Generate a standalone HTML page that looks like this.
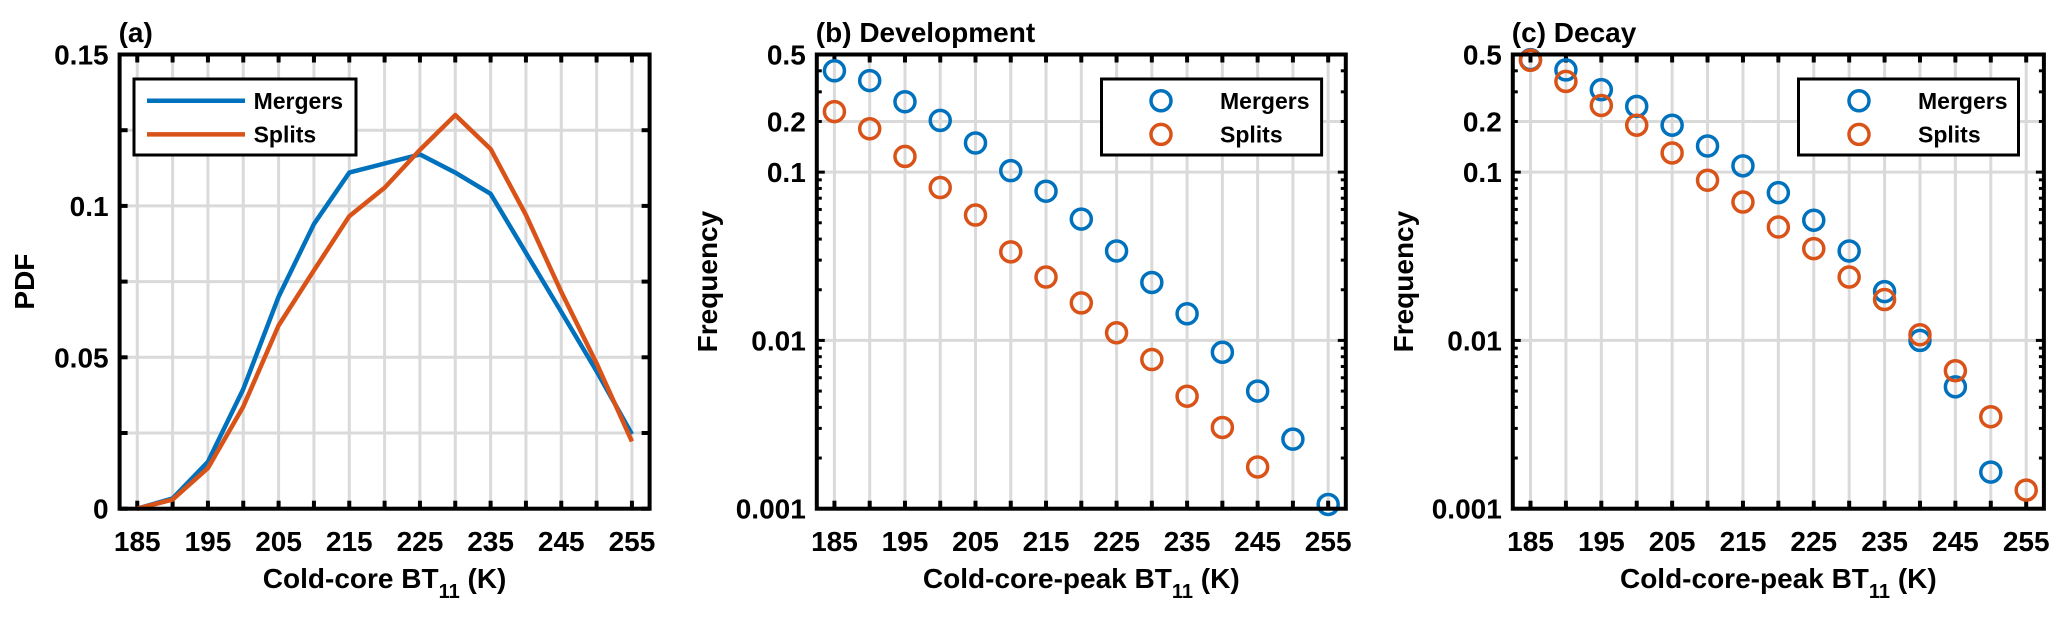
<!DOCTYPE html>
<html><head><meta charset="utf-8"><style>
html,body{margin:0;padding:0;background:#fff;}
svg{display:block;font-family:"Liberation Sans",Arial,sans-serif;font-weight:bold;}
</style></head><body>
<svg id="fig" width="2067" height="620" viewBox="0 0 2067 620"></svg>
<script>
const temps = [185,190,195,200,205,210,215,220,225,230,235,240,245,250,255];
const xTickLabels = [185,195,205,215,225,235,245,255];
const pdfMergers = [0.0,0.0034,0.0155,0.0395,0.070,0.094,0.111,0.114,0.117,0.111,0.104,0.0845,0.065,0.0454,0.0246];
const pdfSplits  = [0.0,0.003,0.0134,0.0337,0.0605,0.0787,0.0966,0.106,0.1185,0.130,0.1188,0.097,0.0716,0.048,0.0222];
const devMergers = [0.40,0.35,0.262,0.203,0.149,0.102,0.077,0.0526,0.034,0.0221,0.0144,0.0085,0.0050,0.00259,0.00106];
const devSplits  = [0.229,0.181,0.124,0.081,0.0556,0.0336,0.0238,0.0167,0.0111,0.0077,0.00466,0.00304,0.00177,null,null];
const decMergers = [0.466,0.405,0.309,0.246,0.190,0.143,0.109,0.0755,0.0518,0.034,0.0195,0.0100,0.0053,0.00165,null];
const decSplits  = [0.462,0.346,0.249,0.190,0.130,0.0895,0.0664,0.0472,0.0351,0.0238,0.0175,0.0108,0.0066,0.00352,0.00129];
const linTicks = [0,0.05,0.1,0.15];
const linTickLabels = ["0","0.05","0.1","0.15"];
const linGrid = [0.025,0.05,0.075,0.1,0.125];
const logTicks = [0.001,0.01,0.1,0.2,0.5];
const logTickLabels = ["0.001","0.01","0.1","0.2","0.5"];
const logGrid = [0.01,0.1,0.2];

const NS="http://www.w3.org/2000/svg";
const svg=document.getElementById('fig');
function mk(tag,attrs,parent){const e=document.createElementNS(NS,tag);for(const k in attrs)e.setAttribute(k,attrs[k]);(parent||svg).appendChild(e);return e;}
const BLUE="#0072BD", ORANGE="#D95319";

function panel(o){
  const g=mk('g',{});
  
  
  const L=o.L,R=o.R,T=54.5,B=508.7;
  const xs=v=>L+(v-182.5)/75*(R-L);
  const ys=o.log?(v=>T+(Math.log10(0.5)-Math.log10(v))/(Math.log10(0.5)+3)*(B-T)):(v=>B-(v/0.15)*(B-T));
  // grid
  temps.forEach(t=>{const l=mk('line',{x1:xs(t),x2:xs(t),y1:T,y2:B,stroke:'#dadada','stroke-width':3},g);
    });
  (o.log?logGrid:linGrid).forEach(v=>{const l=mk('line',{x1:L,x2:R,y1:ys(v),y2:ys(v),stroke:'#dadada','stroke-width':3},g);
    });
  // ticks
  temps.forEach(t=>{mk('line',{x1:xs(t),x2:xs(t),y1:B,y2:B-8,stroke:'#000','stroke-width':4},g);mk('line',{x1:xs(t),x2:xs(t),y1:T,y2:T+8,stroke:'#000','stroke-width':4},g);});
  if(o.log){
    for(let d=-3;d<0;d++)for(let m=1;m<10;m++){const v=m*Math.pow(10,d);if(v>0.5)continue;const len=m===1?8:5;
      mk('line',{x1:L,x2:L+len,y1:ys(v),y2:ys(v),stroke:'#000','stroke-width':3},g);mk('line',{x1:R,x2:R-len,y1:ys(v),y2:ys(v),stroke:'#000','stroke-width':3},g);}
  } else {
    linGrid.concat([0,0.15]).forEach(v=>{mk('line',{x1:L,x2:L+8,y1:ys(v),y2:ys(v),stroke:'#000','stroke-width':4},g);mk('line',{x1:R,x2:R-8,y1:ys(v),y2:ys(v),stroke:'#000','stroke-width':4},g);});
  }
  // series
  o.series.forEach(s=>{
    if(o.log){
      s.data.forEach((v,i)=>{if(v==null)return;const c=mk('circle',{cx:xs(temps[i]),cy:ys(v),r:10,fill:'none',stroke:s.color,'stroke-width':3.5},g);
        });
    } else {
      const p=mk('polyline',{points:s.data.map((v,i)=>xs(temps[i])+','+ys(v)).join(' '),fill:'none',stroke:s.color,'stroke-width':4.5,'stroke-linejoin':'round'},g);
      
    }
  });
  // frame
  const f=mk('rect',{x:L,y:T,width:R-L,height:B-T,fill:'none',stroke:'#000','stroke-width':4},g);
  
  // tick labels
  xTickLabels.forEach(t=>{const e=mk('text',{x:xs(t),y:551,'text-anchor':'middle','font-size':28},g);e.textContent=t;
    });
  const tv=o.log?logTicks:linTicks, tl=o.log?logTickLabels:linTickLabels;
  tv.forEach((v,i)=>{const e=mk('text',{x:L-11,y:ys(v)+10,'text-anchor':'end','font-size':28},g);e.textContent=tl[i];
    });
  // titles
  const tt=mk('text',{x:L-1,y:42,'font-size':28},g);tt.textContent=o.title;
  
  const xt=mk('text',{x:(L+R)/2,y:588,'text-anchor':'middle','font-size':28},g);
  
  xt.innerHTML=o.xlabel+' BT<tspan font-size="20" dy="10">11</tspan><tspan dy="-10"> (K)</tspan>';
  const yt=mk('text',{x:0,y:0,'text-anchor':'middle','font-size':28,transform:`translate(${o.ytx},${(T+B)/2}) rotate(-90)`},g);
  yt.textContent=o.ylabel;
  // legend
  const lg=mk('g',{},g);
  mk('rect',{x:o.lg[0],y:79,width:o.lg[1]-o.lg[0],height:76,fill:'#fff',stroke:'#000','stroke-width':3},lg);
  o.series.forEach((s,i)=>{const y=[100.8,134.4][i];
    if(o.log) mk('circle',{cx:o.lg[2],cy:y,r:10,fill:'none',stroke:s.color,'stroke-width':3.5},lg);
    else mk('line',{x1:o.lg[2]-49,x2:o.lg[2]+49,y1:y,y2:y,stroke:s.color,'stroke-width':4.5},lg);
    const e=mk('text',{x:o.lg[3],y:y+8,'font-size':23},lg);e.textContent=s.label;
    });
}
panel({name:'panel-a-pdf',L:119.6,R:649.6,log:false,title:'(a)',xlabel:'Cold-core',ylabel:'PDF',ytx:34,lg:[134,356,196,253.6],
  series:[{key:'mergers',label:'Mergers',color:BLUE,data:pdfMergers},{key:'splits',label:'Splits',color:ORANGE,data:pdfSplits}]});
panel({name:'panel-b-development',L:816.8,R:1345.8,log:true,title:'(b) Development',xlabel:'Cold-core-peak',ylabel:'Frequency',ytx:717,lg:[1101.5,1321.6,1161,1220],
  series:[{key:'mergers',label:'Mergers',color:BLUE,data:devMergers},{key:'splits',label:'Splits',color:ORANGE,data:devSplits}]});
panel({name:'panel-c-decay',L:1512.8,R:2043.9,log:true,title:'(c) Decay',xlabel:'Cold-core-peak',ylabel:'Frequency',ytx:1413,lg:[1798.5,2018.5,1859,1918],
  series:[{key:'mergers',label:'Mergers',color:BLUE,data:decMergers},{key:'splits',label:'Splits',color:ORANGE,data:decSplits}]});
</script>
</body></html>
